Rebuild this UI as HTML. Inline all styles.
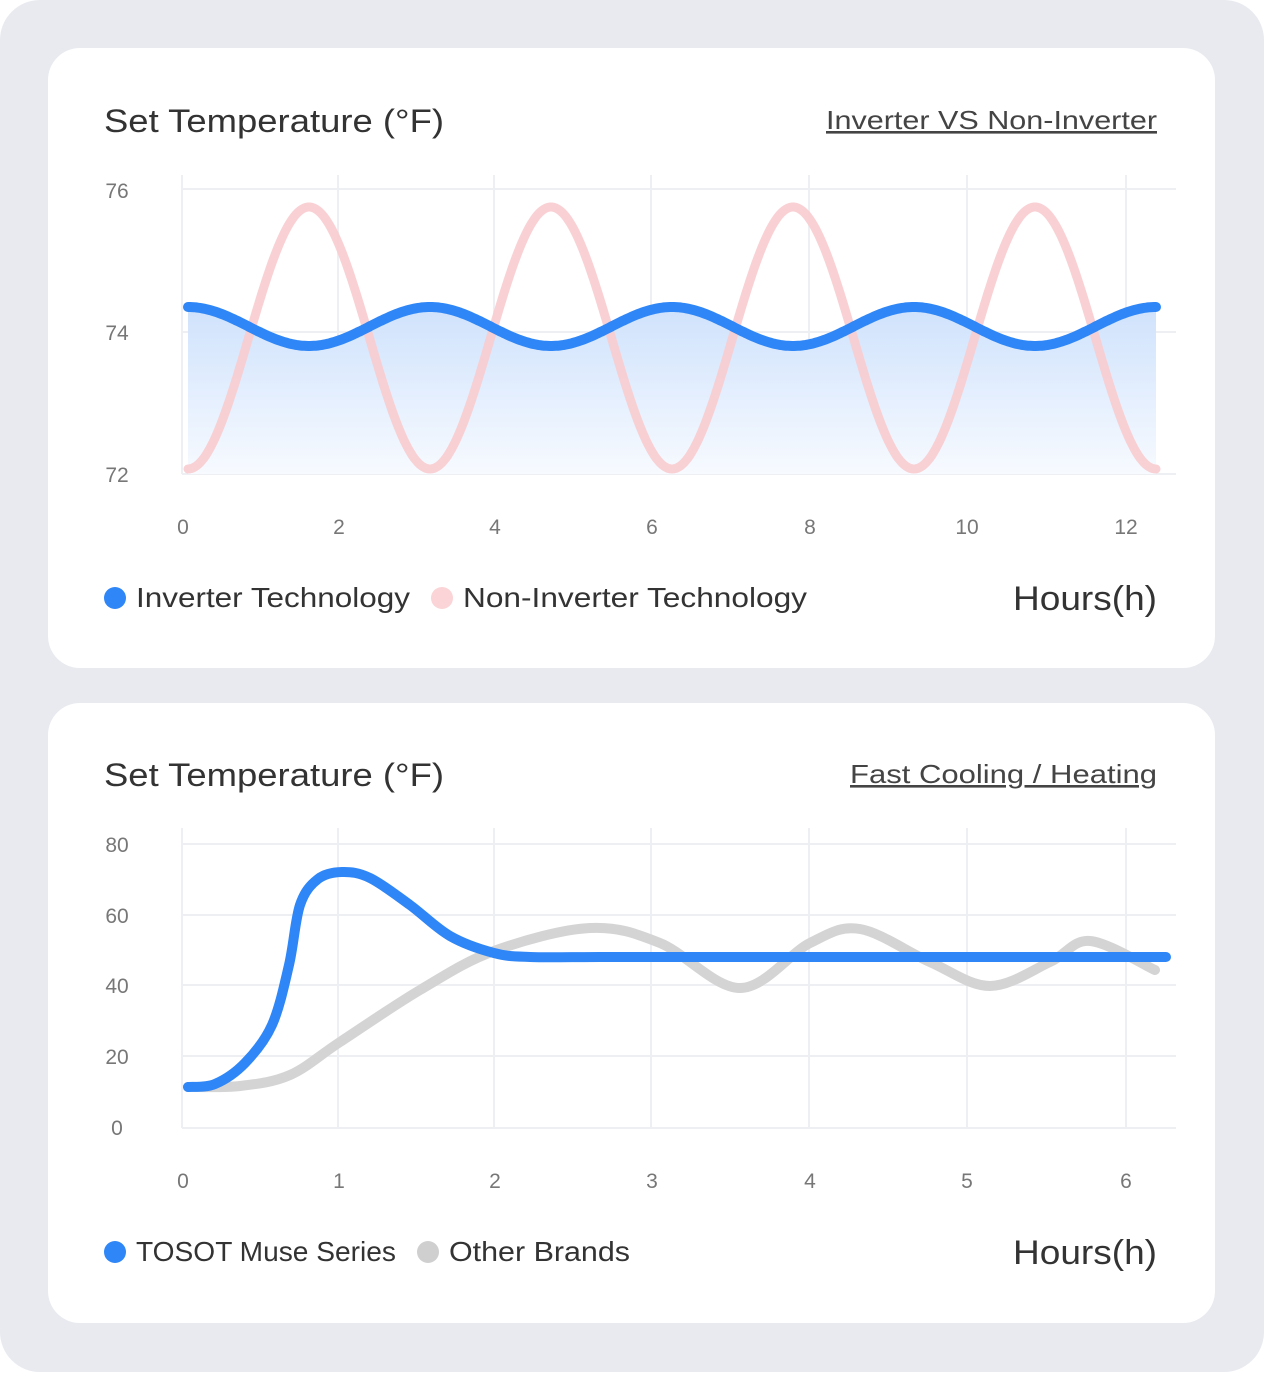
<!DOCTYPE html>
<html><head><meta charset="utf-8"><style>
html,body{margin:0;padding:0;background:#fff}
body{width:1264px;height:1372px;overflow:hidden;font-family:"Liberation Sans","DejaVu Sans",sans-serif}
svg text{font-family:"Liberation Sans","DejaVu Sans",sans-serif}
</style></head><body>
<svg width="1264" height="1372" viewBox="0 0 1264 1372" xmlns="http://www.w3.org/2000/svg">
<defs>
<linearGradient id="fill" x1="0" y1="0" x2="0" y2="1">
<stop offset="0" stop-color="#cfe2fc"/><stop offset="1" stop-color="#f7faff"/>
</linearGradient>
</defs>
<rect x="0" y="0" width="1264" height="1372" rx="40" fill="#e8eaef"/>
<rect x="48" y="48" width="1167" height="620" rx="32" fill="#fff"/>
<rect x="48" y="703" width="1167" height="620" rx="32" fill="#fff"/>

<!-- Top chart -->
<text x="104" y="132" font-size="32" fill="#333" font-weight="500" textLength="340" lengthAdjust="spacingAndGlyphs">Set Temperature (°F)</text>
<text x="1157" y="129" font-size="26" fill="#444" text-anchor="end" text-decoration="underline" textLength="331" lengthAdjust="spacingAndGlyphs">Inverter VS Non-Inverter</text>
<g stroke="#eeeff2" stroke-width="2">
<line x1="182" y1="189" x2="1176" y2="189"/><line x1="182" y1="332" x2="1176" y2="332"/><line x1="182" y1="474" x2="1176" y2="474"/>
<line x1="182" y1="175" x2="182" y2="474"/><line x1="338" y1="175" x2="338" y2="474"/><line x1="494" y1="175" x2="494" y2="474"/><line x1="651" y1="175" x2="651" y2="474"/><line x1="809" y1="175" x2="809" y2="474"/><line x1="967" y1="175" x2="967" y2="474"/><line x1="1126" y1="175" x2="1126" y2="474"/>
</g>
<g font-size="21" fill="#777" text-anchor="middle">
<text x="117" y="198">76</text><text x="117" y="340">74</text><text x="117" y="482">72</text>
<text x="183" y="534">0</text><text x="339" y="534">2</text><text x="495" y="534">4</text><text x="652" y="534">6</text><text x="810" y="534">8</text><text x="967" y="534">10</text><text x="1126" y="534">12</text>
</g>
<path id="bfill" fill="url(#fill)"/>
<path id="pink" fill="none" stroke="#f8cccf" stroke-width="9" stroke-linecap="round" opacity="0.9"/>
<path id="blue" fill="none" stroke="#2f86f6" stroke-width="10" stroke-linecap="round"/>
<circle cx="115" cy="598" r="11" fill="#2f86f6"/>
<text x="136" y="607" font-size="28" fill="#333" textLength="274" lengthAdjust="spacingAndGlyphs">Inverter Technology</text>
<circle cx="442" cy="598" r="11" fill="#fad4d6"/>
<text x="463" y="607" font-size="28" fill="#333" textLength="344" lengthAdjust="spacingAndGlyphs">Non-Inverter Technology</text>
<text x="1157" y="610" font-size="34" fill="#333" text-anchor="end" font-weight="500" textLength="144" lengthAdjust="spacingAndGlyphs">Hours(h)</text>

<!-- Bottom chart -->
<text x="104" y="786" font-size="32" fill="#333" font-weight="500" textLength="340" lengthAdjust="spacingAndGlyphs">Set Temperature (°F)</text>
<text x="1157" y="783" font-size="26" fill="#444" text-anchor="end" text-decoration="underline" textLength="307" lengthAdjust="spacingAndGlyphs">Fast Cooling / Heating</text>
<g stroke="#eeeff2" stroke-width="2">
<line x1="182" y1="844" x2="1176" y2="844"/><line x1="182" y1="915" x2="1176" y2="915"/><line x1="182" y1="985" x2="1176" y2="985"/><line x1="182" y1="1056" x2="1176" y2="1056"/><line x1="182" y1="1128" x2="1176" y2="1128"/>
<line x1="182" y1="828" x2="182" y2="1128"/><line x1="338" y1="828" x2="338" y2="1128"/><line x1="494" y1="828" x2="494" y2="1128"/><line x1="651" y1="828" x2="651" y2="1128"/><line x1="809" y1="828" x2="809" y2="1128"/><line x1="967" y1="828" x2="967" y2="1128"/><line x1="1126" y1="828" x2="1126" y2="1128"/>
</g>
<g font-size="21" fill="#777" text-anchor="middle">
<text x="117" y="852">80</text><text x="117" y="923">60</text><text x="117" y="993">40</text><text x="117" y="1064">20</text><text x="117" y="1135">0</text>
<text x="183" y="1188">0</text><text x="339" y="1188">1</text><text x="495" y="1188">2</text><text x="652" y="1188">3</text><text x="810" y="1188">4</text><text x="967" y="1188">5</text><text x="1126" y="1188">6</text>
</g>
<path id="gray" fill="none" stroke="#d4d4d4" stroke-width="10" stroke-linecap="round"/>
<path id="blue2" fill="none" stroke="#2f86f6" stroke-width="10" stroke-linecap="round"/>
<circle cx="115" cy="1252" r="11" fill="#2f86f6"/>
<text x="136" y="1261" font-size="28" fill="#333" textLength="260" lengthAdjust="spacingAndGlyphs">TOSOT Muse Series</text>
<circle cx="428" cy="1252" r="11" fill="#cfcfcf"/>
<text x="449" y="1261" font-size="28" fill="#333" textLength="181" lengthAdjust="spacingAndGlyphs">Other Brands</text>
<text x="1157" y="1264" font-size="34" fill="#333" text-anchor="end" font-weight="500" textLength="144" lengthAdjust="spacingAndGlyphs">Hours(h)</text>
</svg>
<script>
function f(n){return n.toFixed(1)}
var P=242,x0=188,x1=1156,pk="",bl="";
for(var x=x0;x<=x1;x+=2){
 var yp=338+131*Math.cos(2*Math.PI*(x-x0)/P);
 var yb=326.5-19.5*Math.cos(2*Math.PI*(x-x0)/P);
 pk+=(x==x0?"M":"L")+f(x)+","+f(yp);
 bl+=(x==x0?"M":"L")+f(x)+","+f(yb);
}
document.getElementById("pink").setAttribute("d",pk);
document.getElementById("blue").setAttribute("d",bl);
document.getElementById("bfill").setAttribute("d",bl+"L"+x1+",474L"+x0+",474Z");
function cr(pts){
 var d="M"+pts[0][0]+","+pts[0][1];
 for(var i=0;i<pts.length-1;i++){
  var p0=pts[i-1]||pts[i],p1=pts[i],p2=pts[i+1],p3=pts[i+2]||p2;
  d+="C"+f(p1[0]+(p2[0]-p0[0])/6)+","+f(p1[1]+(p2[1]-p0[1])/6)+" "+f(p2[0]-(p3[0]-p1[0])/6)+","+f(p2[1]-(p3[1]-p1[1])/6)+" "+p2[0]+","+p2[1];
 }
 return d;
}
document.getElementById("gray").setAttribute("d",cr([[188,1087],[240,1086],[290,1075],[340,1042],[420,990],[494,951],[590,928],[660,943],[740,988],[810,943],[860,929],[930,962],[990,986],[1050,962],[1090,941],[1155,970]]));
document.getElementById("blue2").setAttribute("d",cr([[188,1087],[215,1084],[245,1063],[272,1025],[289,965],[300,905],[318,879],[342,872],[370,878],[410,905],[450,936],[494,953],[530,957],[600,957],[700,957],[1166,957]]));
</script>
</body></html>
